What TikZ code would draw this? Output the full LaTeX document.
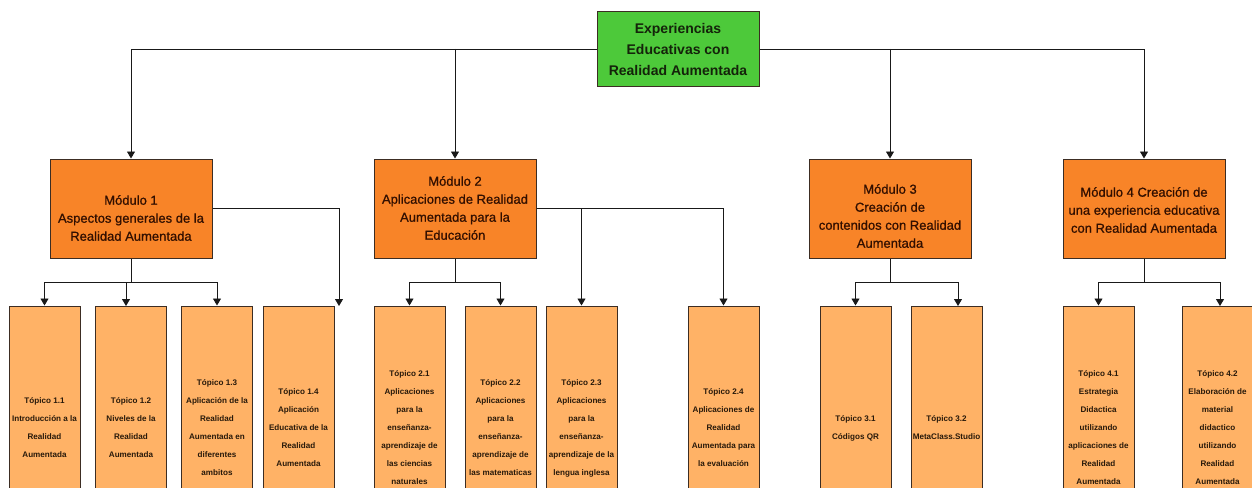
\documentclass[tikz,border=0pt]{standalone}
\usepackage{fontspec}
\setmainfont{Liberation Sans}
\newfontfamily\modfont[FakeBold=0.8]{Liberation Sans}
\usetikzlibrary{arrows.meta}
\definecolor{topgreen}{RGB}{77,201,58}
\definecolor{modorange}{RGB}{248,132,40}
\definecolor{toplight}{RGB}{255,178,102}
\definecolor{boxline}{RGB}{60,45,35}
\definecolor{modtext}{RGB}{50,15,0}
\definecolor{toptext}{RGB}{20,35,10}
\definecolor{tptext}{RGB}{40,25,10}
\begin{document}
\begin{tikzpicture}[x=1pt,y=-1pt,
  topbox/.style={draw=boxline, line width=1pt, fill=topgreen, inner sep=0pt,
    minimum width=162pt, minimum height=74pt, align=center, text=toptext,
    font=\fontsize{14}{21}\selectfont\bfseries},
  modbox/.style={draw=boxline, line width=1pt, fill=modorange, inner sep=0pt,
    minimum width=162pt, minimum height=99pt},
  modlabel/.style={align=center, text=modtext, inner sep=0pt,
    font=\modfont\fontsize{13}{18}\selectfont},
  tpbox/.style={draw=boxline, line width=1pt, fill=toplight, inner sep=0pt,
    minimum width=71pt, minimum height=244pt, align=center, text=tptext,
    font=\fontsize{8.1}{18}\selectfont\bfseries},
  conn/.style={draw=black!90, line width=0.9pt},
  arr/.style={conn, -{Triangle[width=8pt,length=7pt]}}
]
\useasboundingbox (0,0) rectangle (1252,487);
\clip (0,0) rectangle (1252,487);
\fill[white] (0,0) rectangle (1252,487);

% top
\node[topbox] (top) at (678,49) {Experiencias\\Educativas con\\Realidad Aumentada};

% modules
\node[modbox] (m1) at (131,208.5) {};
\node[modbox] (m2) at (455,208.5) {};
\node[modbox] (m3) at (890,208.5) {};
\node[modbox] (m4) at (1144,208.5) {};
\node[modlabel] (m1t) at (131,218) {Módulo 1\\Aspectos generales de la\\Realidad Aumentada};
\node[modlabel] (m2t) at (455,208) {Módulo 2\\Aplicaciones de Realidad\\Aumentada para la\\Educación};
\node[modlabel] (m3t) at (890,216) {Módulo 3\\Creación de\\contenidos con Realidad\\Aumentada};
\node[modlabel] (m4t) at (1144,210) {Módulo 4 Creación de\\una experiencia educativa\\con Realidad Aumentada};

% topics
\node[tpbox] (t11) at (44.5,428) {Tópico 1.1\\Introducción a la\\Realidad\\Aumentada};
\node[tpbox] (t12) at (131,428) {Tópico 1.2\\Niveles de la\\Realidad\\Aumentada};
\node[tpbox] (t13) at (217,428) {Tópico 1.3\\Aplicación de la\\Realidad\\Aumentada en\\diferentes\\ambitos};
\node[tpbox] (t14) at (298.5,428) {Tópico 1.4\\Aplicación\\Educativa de la\\Realidad\\Aumentada};
\node[tpbox] (t21) at (409.5,428) {Tópico 2.1\\Aplicaciones\\para la\\enseñanza-\\aprendizaje de\\las ciencias\\naturales};
\node[tpbox] (t22) at (500.5,428) {Tópico 2.2\\Aplicaciones\\para la\\enseñanza-\\aprendizaje de\\las matematicas};
\node[tpbox] (t23) at (581.5,428) {Tópico 2.3\\Aplicaciones\\para la\\enseñanza-\\aprendizaje de la\\lengua inglesa};
\node[tpbox] (t24) at (723.5,428) {Tópico 2.4\\Aplicaciones de\\Realidad\\Aumentada para\\la evaluación};
\node[tpbox] (t31) at (855.5,428) {Tópico 3.1\\Códigos QR};
\node[tpbox] (t32) at (946.5,428) {Tópico 3.2\\MetaClass.Studio};
\node[tpbox] (t41) at (1098.5,428) {Tópico 4.1\\Estrategia\\Didactica\\utilizando\\aplicaciones de\\Realidad\\Aumentada};
\node[tpbox] (t42) at (1217.5,428) {Tópico 4.2\\Elaboración de\\material\\didactico\\utilizando\\Realidad\\Aumentada};

% junctions and off-centre arrow ends
\coordinate (j1) at (131,282);
\coordinate (j2) at (455,282);
\coordinate (j3) at (890,282);
\coordinate (j4) at (1144,282);
\coordinate (a12) at (126,306);
\coordinate (a14) at (339,306);
\coordinate (a32) at (958,306);
\coordinate (a42) at (1220,306);

% top connectors
\draw[arr] (top.west) -| (m1.north);
\draw[arr] (top.west -| m2.north) -- (m2.north);
\draw[arr] (top.east) -| (m4.north);
\draw[arr] (top.east -| m3.north) -- (m3.north);

% module 1
\draw[conn] (m1.south) -- (j1);
\draw[arr] (j1) -| (t11.north);
\draw[arr] (j1) -| (t13.north);
\draw[arr] (a12 |- j1) -- (a12);
\draw[arr] (m1.east) -| (a14);

% module 2
\draw[conn] (m2.south) -- (j2);
\draw[arr] (j2) -| (t21.north);
\draw[arr] (j2) -| (t22.north);
\draw[arr] (m2.east) -| (t24.north);
\draw[arr] (m2.east -| t23.north) -- (t23.north);

% module 3
\draw[conn] (m3.south) -- (j3);
\draw[arr] (j3) -| (t31.north);
\draw[arr] (j3) -| (a32);

% module 4
\draw[conn] (m4.south) -- (j4);
\draw[arr] (j4) -| (t41.north);
\draw[arr] (j4) -| (a42);
\end{tikzpicture}
\end{document}
